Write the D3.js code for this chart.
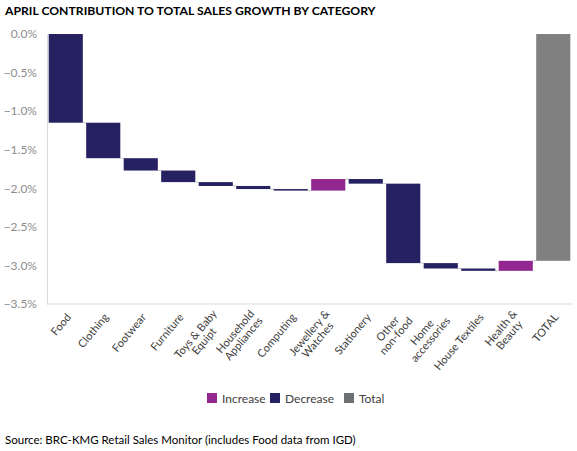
<!DOCTYPE html>
<html>
<head>
<meta charset="utf-8">
<script src="https://cdn.jsdelivr.net/npm/d3@7"></script>
<style>
  body { margin: 0; background: #fff; }
  svg { display: block; font-family: Lato, "Open Sans", sans-serif; }
</style>
</head>
<body>
<script>
// category labels (lines split with |) and each one's contribution in %
var categories = ["Food", "Clothing", "Footwear", "Furniture", "Toys & Baby|Equipt",
  "Household|Appliances", "Computing", "Jewellery &|Watches", "Stationery",
  "Other|non-food", "Home|accessories", "House Textiles", "Health &|Beauty", "TOTAL"];
var changes = [-1.15, -0.46, -0.16, -0.15, -0.05, -0.04, -0.02, 0.15, -0.06, -1.03, -0.07, -0.03, 0.13];
var yTicks = [0, -0.5, -1.0, -1.5, -2.0, -2.5, -3.0, -3.5];
var legendItems = ["Increase", "Decrease", "Total"];

var colors = { Increase: "#92278f", Decrease: "#262262", Total: "#808080" };

var width = 577, height = 451;
var margin = { top: 34, left: 47, right: 5, bottom: 147 };

// build waterfall steps
var steps = [];
var running = 0;
changes.forEach(function(v, i) {
  var start = running;
  running = running + v;
  steps.push({ name: categories[i], start: start, end: running, type: v >= 0 ? "Increase" : "Decrease" });
});
steps.push({ name: categories[categories.length - 1], start: 0, end: running, type: "Total" });

var svg = d3.select("body").append("svg")
  .attr("width", width)
  .attr("height", height);

var x = d3.scaleBand()
  .domain(categories)
  .range([margin.left, width - margin.right])
  .paddingInner(0.09)
  .paddingOuter(0.045);

var y = d3.scaleLinear()
  .domain([0, -3.5])
  .range([margin.top, height - margin.bottom]);

// title
svg.append("text")
  .attr("x", 5)
  .attr("y", 15)
  .attr("font-size", 12.2)
  .attr("font-weight", "bold")
  .attr("fill", "#000")
  .text("APRIL CONTRIBUTION TO TOTAL SALES GROWTH BY CATEGORY");

// y axis
var yAxis = svg.append("g")
  .attr("transform", "translate(" + margin.left + ",0)")
  .call(d3.axisLeft(y).tickValues(yTicks).tickSize(0).tickPadding(10)
    .tickFormat(function(d) { return d3.format(".1f")(d) + "%"; }));
yAxis.select(".domain").attr("stroke", "#d9d9d9");
yAxis.selectAll("text")
  .attr("font-family", "Lato, sans-serif")
  .attr("font-size", 12)
  .attr("fill", "#8c8c8c");

// x axis line
svg.append("line")
  .attr("x1", margin.left)
  .attr("x2", width - margin.right + 1)
  .attr("y1", y(-3.5))
  .attr("y2", y(-3.5))
  .attr("stroke", "#d9d9d9");

// connectors
svg.selectAll(".connector")
  .data(steps.slice(0, steps.length - 1))
  .enter()
  .append("line")
  .attr("class", "connector")
  .attr("x1", function(d) { return x(d.name) + x.bandwidth(); })
  .attr("x2", function(d, i) { return x(steps[i + 1].name); })
  .attr("y1", function(d) { return y(d.end); })
  .attr("y2", function(d) { return y(d.end); })
  .attr("stroke", "#c8c8c8")
  .attr("stroke-width", 1);

// bars
svg.selectAll(".bar")
  .data(steps)
  .enter()
  .append("rect")
  .attr("class", "bar")
  .attr("x", function(d) { return x(d.name); })
  .attr("width", x.bandwidth())
  .attr("y", function(d) { return y(Math.max(d.start, d.end)); })
  .attr("height", function(d) { return Math.abs(y(d.start) - y(d.end)); })
  .attr("fill", function(d) { return colors[d.type]; });

// category labels, rotated
var lineH = 11;
var labels = svg.selectAll(".cat")
  .data(categories)
  .enter()
  .append("g")
  .attr("class", "cat")
  .attr("transform", function(d) {
    return "translate(" + (x(d) + x.bandwidth() / 2 + 3) + "," + (y(-3.5) + 11) + ") rotate(-50)";
  });

labels.each(function(d) {
  var g = d3.select(this);
  var lines = d.split("|");
  var texts = lines.map(function(line, i) {
    return g.append("text")
      .attr("font-size", 11)
      .attr("fill", "#404040")
      .attr("text-anchor", "middle")
      .attr("y", (i - (lines.length - 1) / 2) * lineH)
      .attr("dy", "0.35em")
      .text(line);
  });
  var maxW = d3.max(texts, function(t) { return t.node().getComputedTextLength(); });
  texts.forEach(function(t) { t.attr("x", -maxW / 2); });
});

// legend
var legendX = [207, 270, 344];
var legend = svg.selectAll(".legend")
  .data(legendItems)
  .enter()
  .append("g")
  .attr("class", "legend")
  .attr("transform", function(d, i) { return "translate(" + legendX[i] + ",393)"; });

legend.append("rect")
  .attr("width", 10)
  .attr("height", 10)
  .attr("fill", function(d) { return d === "Total" ? "#6e6f72" : colors[d]; });

legend.append("text")
  .attr("x", 15)
  .attr("y", 9.5)
  .attr("font-size", 12)
  .attr("fill", "#404040")
  .text(function(d) { return d; });

// source
svg.append("text")
  .attr("x", 5)
  .attr("y", 444)
  .attr("font-size", 11.5)
  .attr("fill", "#000")
  .text("Source: BRC-KMG Retail Sales Monitor (includes Food data from IGD)");
</script>
</body>
</html>
